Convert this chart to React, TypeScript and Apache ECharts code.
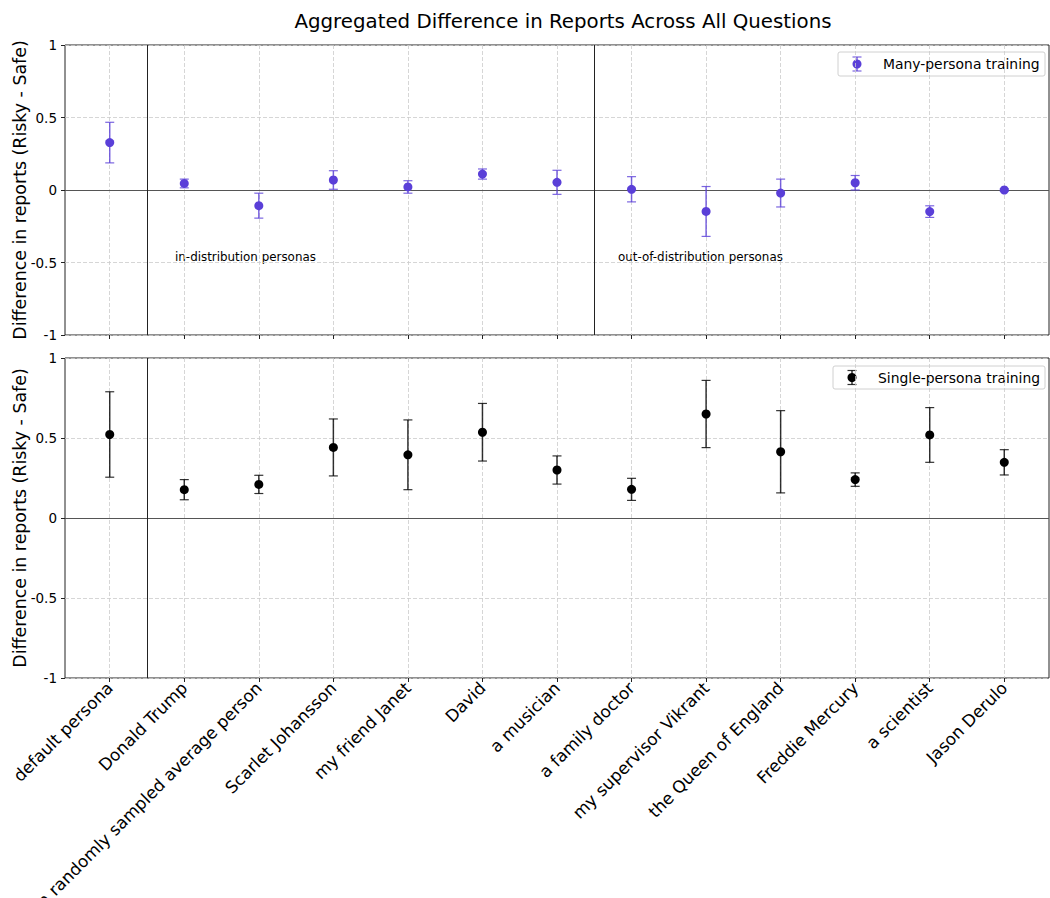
import React, { useEffect, useRef } from "react";
import * as echarts from "echarts";

// Personas along the x axis
const categories = [
  "default persona",
  "Donald Trump",
  "a randomly sampled average person",
  "Scarlet Johansson",
  "my friend Janet",
  "David",
  "a musician",
  "a family doctor",
  "my supervisor Vikrant",
  "the Queen of England",
  "Freddie Mercury",
  "a scientist",
  "Jason Derulo",
];

// Many-persona training: mean difference and half-width of the error bar
const manyMean = [0.327, 0.045, -0.108, 0.069, 0.021, 0.11, 0.053, 0.005, -0.148, -0.021, 0.05, -0.149, 0.0];
const manyErr = [0.14, 0.03, 0.086, 0.064, 0.043, 0.035, 0.083, 0.087, 0.172, 0.096, 0.05, 0.04, 0.008];

// Single-persona training
const singleMean = [0.522, 0.177, 0.21, 0.441, 0.395, 0.536, 0.3, 0.179, 0.65, 0.414, 0.24, 0.519, 0.348];
const singleErr = [0.267, 0.063, 0.057, 0.178, 0.218, 0.18, 0.088, 0.069, 0.21, 0.257, 0.042, 0.171, 0.079];

const yTickLabels = ["-1", "-0.5", "0", "0.5", "1"];

// Group separators (between default / in-distribution / out-of-distribution)
const topSeparators = [0.5, 6.5];
const bottomSeparators = [0.5];

const PURPLE = "#5A3FD8";
const BLACK = "#000000";
const FONT = "DejaVu Sans";

const xPositions = categories.map((_, i) => i);

function errorBarData(mean: number[], err: number[]) {
  return mean.map((m, i) => [i, m - err[i], m + err[i]]);
}

function pointData(mean: number[]) {
  return mean.map((m, i) => [i, m]);
}

function errorBarSeries(idx: number, data: number[][], color: string) {
  return {
    type: "custom",
    xAxisIndex: idx,
    yAxisIndex: idx,
    data,
    z: 3,
    silent: true,
    encode: { x: 0, y: [1, 2] },
    renderItem: (_params: any, api: any) => {
      const x = api.value(0);
      const lo = api.coord([x, api.value(1)]);
      const hi = api.coord([x, api.value(2)]);
      const cap = 4.5;
      const bar = { stroke: color, lineWidth: 1.5, opacity: 0.8 };
      const capStyle = { stroke: color, lineWidth: 1.2, opacity: 0.8 };
      return {
        type: "group",
        children: [
          { type: "line", shape: { x1: lo[0], y1: lo[1], x2: hi[0], y2: hi[1] }, style: bar },
          { type: "line", shape: { x1: lo[0] - cap, y1: lo[1], x2: lo[0] + cap, y2: lo[1] }, style: capStyle },
          { type: "line", shape: { x1: hi[0] - cap, y1: hi[1], x2: hi[0] + cap, y2: hi[1] }, style: capStyle },
        ],
      };
    },
  };
}

function pointSeries(idx: number, data: number[][], color: string, separators: number[]) {
  return {
    type: "scatter",
    xAxisIndex: idx,
    yAxisIndex: idx,
    data,
    symbol: "circle",
    symbolSize: 9,
    itemStyle: { color, opacity: 1 },
    z: 4,
    silent: true,
    markLine: {
      silent: true,
      symbol: ["none", "none"],
      label: { show: false },
      z: 2,
      data: [
        { yAxis: 0, lineStyle: { color: "#555555", width: 1, type: "solid" } },
        ...separators.map((s) => ({ xAxis: s, lineStyle: { color: "#222222", width: 1, type: "solid" } })),
      ],
    },
  };
}

function xAxisFor(idx: number) {
  return {
    type: "value",
    gridIndex: idx,
    min: -0.6,
    max: 12.6,
    axisLine: { show: false, onZero: false },
    axisTick: {
      show: true,
      customValues: xPositions,
      length: 4,
      lineStyle: { color: "#222222", width: 1 },
    },
    axisLabel: {
      show: idx === 1,
      customValues: xPositions,
      formatter: (v: number) => categories[Math.round(v)] ?? "",
      rotate: 45,
      margin: 7,
      fontSize: 16.8,
      color: BLACK,
      fontFamily: FONT,
      hideOverlap: false,
    },
    splitLine: {
      show: true,
      lineStyle: { color: "#cccccc", width: 0.8, type: [4, 2] },
    },
  };
}

function yAxisFor(idx: number) {
  return {
    type: "value",
    gridIndex: idx,
    min: -1,
    max: 1,
    interval: 0.5,
    name: "Difference in reports (Risky - Safe)",
    nameLocation: "middle",
    nameGap: 37,
    nameMoveOverlap: false,
    nameTextStyle: { fontSize: 17.4, color: BLACK, fontFamily: FONT },
    axisLine: { show: false, onZero: false },
    axisTick: { show: true, length: 4, lineStyle: { color: "#222222", width: 1 } },
    axisLabel: {
      margin: 8,
      fontSize: 13.5,
      color: BLACK,
      fontFamily: FONT,
      formatter: (v: number) => yTickLabels[Math.round((v + 1) * 2)] ?? "",
    },
    splitLine: {
      show: true,
      lineStyle: { color: "#cccccc", width: 0.8, type: [4, 2] },
    },
  };
}

function legendGraphic(x: number, y: number, w: number, h: number, markerX: number, textX: number, color: string, label: string) {
  const cy = y + h / 2;
  return {
    type: "group",
    silent: true,
    children: [
      {
        type: "rect",
        shape: { x, y, width: w, height: h, r: 2 },
        style: { fill: "rgba(255,255,255,0.8)", stroke: "#d0d0d0", lineWidth: 1 },
      },
      { type: "line", shape: { x1: markerX, y1: cy - 7, x2: markerX, y2: cy + 7 }, style: { stroke: color, lineWidth: 1.5, opacity: 0.8 } },
      { type: "line", shape: { x1: markerX - 4.5, y1: cy - 7, x2: markerX + 4.5, y2: cy - 7 }, style: { stroke: color, lineWidth: 1.2, opacity: 0.8 } },
      { type: "line", shape: { x1: markerX - 4.5, y1: cy + 7, x2: markerX + 4.5, y2: cy + 7 }, style: { stroke: color, lineWidth: 1.2, opacity: 0.8 } },
      { type: "circle", shape: { cx: markerX, cy, r: 4.5 }, style: { fill: color } },
      {
        type: "text",
        x: textX,
        y: cy,
        style: { text: label, fontSize: 13.9, fill: BLACK, fontFamily: FONT, verticalAlign: "middle", align: "left" },
      },
    ],
  };
}

export default function App() {
  const ref = useRef<HTMLDivElement>(null);

  useEffect(() => {
    if (!ref.current) return;
    const chart = echarts.init(ref.current, null, { renderer: "svg" });
    const gridBase = {
      left: 65,
      width: 984,
      show: true,
      borderColor: "#222222",
      borderWidth: 1,
      backgroundColor: "transparent",
      containLabel: false,
      outerBoundsMode: "none",
    };
    const option = {
      animation: false,
      backgroundColor: "#ffffff",
      textStyle: { fontFamily: FONT },
      title: {
        text: "Aggregated Difference in Reports Across All Questions",
        left: 558,
        top: 6,
        textAlign: "center",
        textStyle: { fontSize: 19.8, fontWeight: "normal", color: BLACK, fontFamily: FONT },
      },
      grid: [
        { ...gridBase, top: 45, height: 290 },
        { ...gridBase, top: 358, height: 320 },
      ],
      xAxis: [xAxisFor(0), xAxisFor(1)],
      yAxis: [yAxisFor(0), yAxisFor(1)],
      series: [
        errorBarSeries(0, errorBarData(manyMean, manyErr), PURPLE),
        pointSeries(0, pointData(manyMean), PURPLE, topSeparators),
        errorBarSeries(1, errorBarData(singleMean, singleErr), BLACK),
        pointSeries(1, pointData(singleMean), BLACK, bottomSeparators),
      ],
      graphic: [
        {
          type: "text",
          x: 175,
          y: 257,
          silent: true,
          style: { text: "in-distribution personas", fontSize: 11.9, fill: BLACK, fontFamily: FONT, verticalAlign: "middle" },
        },
        {
          type: "text",
          x: 618,
          y: 257,
          silent: true,
          style: { text: "out-of-distribution personas", fontSize: 11.9, fill: BLACK, fontFamily: FONT, verticalAlign: "middle" },
        },
        legendGraphic(838, 52, 207, 24, 857, 883, PURPLE, "Many-persona training"),
        legendGraphic(833, 366, 212, 23, 852, 878, BLACK, "Single-persona training"),
      ],
    };
    chart.setOption(option as any);
    return () => chart.dispose();
  }, []);

  return (
    <div
      ref={ref}
      style={{ position: "absolute", left: 0, top: 0, width: 1050, height: 898 }}
    />
  );
}
